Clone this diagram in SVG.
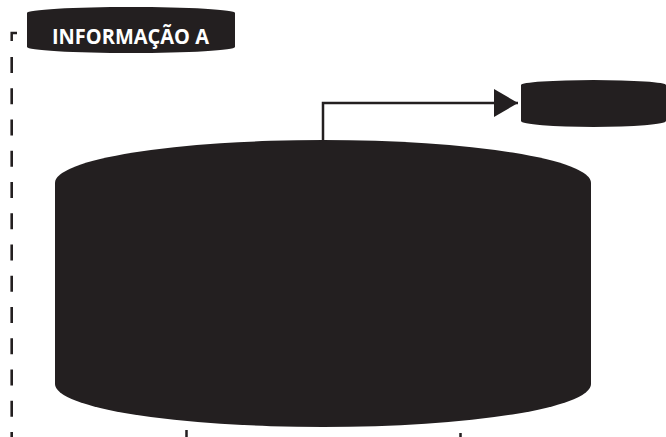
<svg xmlns="http://www.w3.org/2000/svg" width="666" height="437" viewBox="0 0 666 437">
<style>
.shape{fill:#231f20}
.line{stroke:#231f20;stroke-width:2.5;fill:none}
.dash{stroke:#231f20;stroke-width:2.6;fill:none;stroke-dasharray:16 15.25}
.label{font-family:"Open Sans","Liberation Sans",Arial,sans-serif;font-weight:bold;font-size:22px;fill:#ffffff}
</style>
<defs>
<marker id="arrow" markerUnits="userSpaceOnUse" markerWidth="26" markerHeight="30" refX="24" refY="14" orient="auto">
<path d="M0,0 L24,14 L0,28 Z" fill="#231f20"/>
</marker>
</defs>
<rect width="666" height="437" fill="#ffffff"/>
<g id="connectors">
<path class="line" d="M17,33 H11.7 V41"/>
<path class="dash" d="M11.7,57 V437"/>
<path class="line" d="M323,141 V103 H518" marker-end="url(#arrow)"/>
<path class="line" d="M186.5,430 V437"/>
<path class="line" d="M460.5,433 V437"/>
</g>
<g id="node-information-a">
<path class="shape" d="M27,13 A104,6 0 0 1 235,13 V47 A104,6 0 0 1 27,47 Z"/>
<text class="label" x="52" y="44" textLength="157" lengthAdjust="spacingAndGlyphs">INFORMAÇÃO A</text>
</g>
<g id="node-top-right">
<path class="shape" d="M521,85 A72.5,5 0 0 1 666,85 V121 A72.5,6 0 0 1 521,121 Z"/>
</g>
<g id="node-main">
<path class="shape" d="M55,183 A268,43 0 0 1 591,183 V384 A268,43 0 0 1 55,384 Z"/>
</g>
</svg>
